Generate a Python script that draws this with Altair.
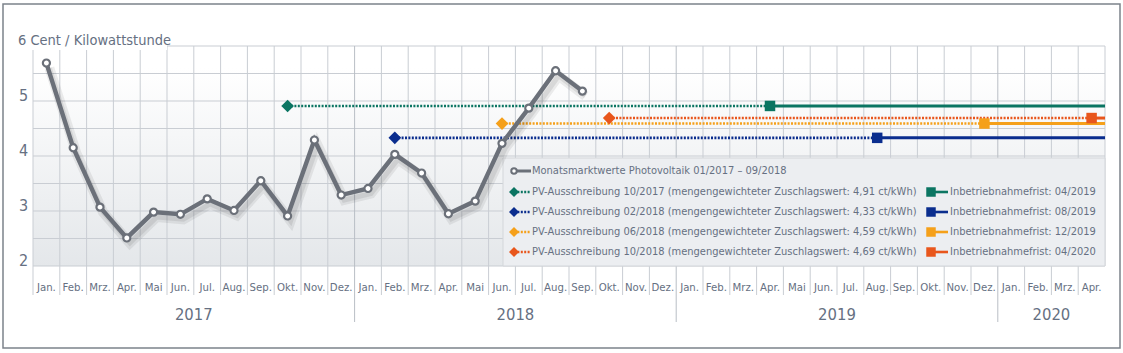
import altair as alt
import pandas as pd

# ---------------- data ----------------
month_names = ["Jan.", "Feb.", "Mrz.", "Apr.", "Mai", "Jun.", "Jul.", "Aug.", "Sep.", "Okt.", "Nov.", "Dez."]
month_labels = month_names * 3 + month_names[:4]          # Jan 2017 .. Apr 2020
years = ["2017", "2018", "2019", "2020"]
year_center = [6, 18, 30, 38]

# Monatsmarktwerte Photovoltaik 01/2017 - 09/2018 (ct/kWh)
market_values = [5.69, 4.15, 3.07, 2.51, 2.98, 2.94, 3.22, 3.01, 3.55, 2.91, 4.29, 3.29,
                 3.41, 4.03, 3.69, 2.95, 3.18, 4.23, 4.87, 5.55, 5.18]

tender_names = ["10/2017", "02/2018", "06/2018", "10/2018"]
tender_values = [4.91, 4.33, 4.59, 4.69]
tender_value_text = ["4,91", "4,33", "4,59", "4,69"]
tender_start = [9, 13, 17, 21]        # month index of tender
tender_deadline = [27, 31, 35, 39]    # month index of Inbetriebnahmefrist
deadline_text = ["04/2019", "08/2019", "12/2019", "04/2020"]
tender_colors = ["#0b7562", "#0a2d8e", "#f5a01a", "#e8561c"]

N = len(month_labels)
W, H = 1072, 220
PAD_L, PAD_T = 33, 46
FONT = "DejaVu Sans Condensed, Liberation Sans Narrow, sans-serif"
TXT = "#667082"
GRID = "#c9cdd3"
LINE = "#6b7079"

xs = alt.Scale(domain=[0, N], nice=False, zero=False)
ys = alt.Scale(domain=[2, 6], nice=False, zero=False)


def X(f):
    return alt.X(f, type="quantitative", scale=xs, axis=None)


def Y(f):
    return alt.Y(f, type="quantitative", scale=ys, axis=None)


layers = []

# background gradient
bg = pd.DataFrame({"x": [0], "x2": [N], "y": [5.6], "y2": [2]})
layers.append(
    alt.Chart(bg).mark_rect(
        fill=alt.Gradient(gradient="linear",
                          stops=[alt.GradientStop(color="#ffffff", offset=0),
                                 alt.GradientStop(color="#e4e7ea", offset=1)],
                          x1=0, x2=0, y1=0, y2=1)
    ).encode(x=X("x"), x2="x2", y=Y("y"), y2="y2")
)

# horizontal grid lines
hg = pd.DataFrame({"y": [2 + 0.5 * k for k in range(9)], "x": 0, "x2": N})
layers.append(alt.Chart(hg).mark_rule(color=GRID, strokeWidth=1).encode(x=X("x"), x2="x2", y=Y("y")))

# vertical grid lines (month separators), extending down into label area
vb = pd.DataFrame({"x": list(range(N))})
vb_norm = vb[~vb["x"].isin([12, 24, 36])]
vb_year = pd.DataFrame({"x": [12, 24, 36]})
layers.append(alt.Chart(vb_norm).mark_rule(color=GRID, strokeWidth=1).encode(
    x=X("x"), y=alt.value(0), y2=alt.value(H + 29)))
layers.append(alt.Chart(vb_year).mark_rule(color="#b9bec5", strokeWidth=1).encode(
    x=X("x"), y=alt.value(0), y2=alt.value(H + 56)))
layers.append(alt.Chart(pd.DataFrame({"x": [N]})).mark_rule(color=GRID, strokeWidth=1).encode(
    x=X("x"), y=alt.value(0), y2=alt.value(H)))

# white background behind the unit label
layers.append(alt.Chart(pd.DataFrame({"a": [0]})).mark_rect(fill="white").encode(
    x=alt.value(-20), x2=alt.value(134), y=alt.value(-18), y2=alt.value(4)))

# legend box
layers.append(alt.Chart(pd.DataFrame({"a": [0]})).mark_rect(
    fill="#eceef1", stroke="#d3d6da", strokeWidth=1).encode(
    x=alt.value(470), x2=alt.value(W), y=alt.value(112), y2=alt.value(H)))

# tender lines
td = pd.DataFrame({
    "name": tender_names,
    "v": tender_values,
    "s": [i + 0.5 for i in tender_start],
    "d": [i + 0.5 for i in tender_deadline],
    "end": N,
})
cscale = alt.Scale(domain=tender_names, range=tender_colors)
col = alt.Color("name:N", scale=cscale, legend=None)
layers.append(alt.Chart(td).mark_rule(strokeWidth=2.6, strokeDash=[2, 1.4]).encode(
    x=X("s"), x2="d", y=Y("v"), color=col))
layers.append(alt.Chart(td).mark_rule(strokeWidth=3).encode(
    x=X("d"), x2="end", y=Y("v"), color=col))
layers.append(alt.Chart(td).mark_point(shape="diamond", filled=True, size=160, opacity=1).encode(
    x=X("s"), y=Y("v"), color=col))
layers.append(alt.Chart(td).mark_point(shape="square", filled=True, size=110, opacity=1).encode(
    x=X("d"), y=Y("v"), color=col))

# market value line
md = pd.DataFrame({"x": [i + 0.5 for i in range(len(market_values))], "y": market_values})
layers.append(alt.Chart(md).mark_line(color="#000000", opacity=0.07, strokeWidth=10,
                                       xOffset=3, yOffset=5).encode(x=X("x"), y=Y("y")))
layers.append(alt.Chart(md).mark_line(color="#000000", opacity=0.08, strokeWidth=5,
                                       xOffset=3, yOffset=5).encode(x=X("x"), y=Y("y")))
layers.append(alt.Chart(md).mark_line(color=LINE, strokeWidth=4.4, strokeJoin="miter").encode(x=X("x"), y=Y("y")))
layers.append(alt.Chart(md).mark_point(shape="circle", filled=True, fill="white", stroke=LINE,
                                        strokeWidth=2.2, size=50, opacity=1).encode(x=X("x"), y=Y("y")))

# ---------------- legend ----------------
LX = 481    # symbol start (chart px)
TX = 499    # text start
LFS = 11
rows_y = [125, 146, 166, 186, 206]
one = pd.DataFrame({"a": [0]})
layers.append(alt.Chart(one).mark_rule(color=LINE, strokeWidth=3).encode(
    x=alt.value(LX), x2=alt.value(LX + 17), y=alt.value(rows_y[0])))
layers.append(alt.Chart(one).mark_point(shape="circle", filled=True, fill="white",
                                         stroke=LINE, strokeWidth=2, size=30, opacity=1).encode(
    x=alt.value(LX), y=alt.value(rows_y[0])))
layers.append(alt.Chart(one).mark_text(
    text="Monatsmarktwerte Photovoltaik 01/2017 – 09/2018", align="left", baseline="middle",
    font=FONT, fontSize=LFS, color=TXT).encode(x=alt.value(TX), y=alt.value(rows_y[0])))
for k in range(4):
    yy = rows_y[k + 1]
    c = tender_colors[k]
    layers.append(alt.Chart(one).mark_rule(color=c, strokeWidth=2.6, strokeDash=[2, 1.4]).encode(
        x=alt.value(LX), x2=alt.value(LX + 17), y=alt.value(yy)))
    layers.append(alt.Chart(one).mark_point(shape="diamond", filled=True, color=c, size=100, opacity=1).encode(
        x=alt.value(LX), y=alt.value(yy)))
    layers.append(alt.Chart(one).mark_text(
        text=f"PV-Ausschreibung {tender_names[k]} (mengengewichteter Zuschlagswert: {tender_value_text[k]} ct/kWh)",
        align="left", baseline="middle", font=FONT, fontSize=LFS, color=TXT).encode(
        x=alt.value(TX), y=alt.value(yy)))
    layers.append(alt.Chart(one).mark_rule(color=c, strokeWidth=2.6).encode(
        x=alt.value(898), x2=alt.value(915), y=alt.value(yy)))
    layers.append(alt.Chart(one).mark_point(shape="square", filled=True, color=c, size=90, opacity=1).encode(
        x=alt.value(898), y=alt.value(yy)))
    layers.append(alt.Chart(one).mark_text(
        text=f"Inbetriebnahmefrist: {deadline_text[k]}",
        align="left", baseline="middle", font=FONT, fontSize=LFS, color=TXT).encode(
        x=alt.value(917), y=alt.value(yy)))

# ---------------- axis texts ----------------
yl = pd.DataFrame({"y": [2, 3, 4, 5], "t": ["2", "3", "4", "5"]})
layers.append(alt.Chart(yl).mark_text(align="left", baseline="middle", dy=-5, font=FONT, fontSize=16,
                                       color=TXT).encode(x=alt.value(-14), y=Y("y"), text="t:N"))
layers.append(alt.Chart(pd.DataFrame({"y": [6]})).mark_text(
    text="6 Cent / Kilowattstunde", align="left", baseline="middle", dy=-5, font=FONT, fontSize=14.5,
    color=TXT).encode(x=alt.value(-15), y=Y("y")))

ml = pd.DataFrame({"x": [i + 0.5 for i in range(N)], "t": month_labels})
layers.append(alt.Chart(ml).mark_text(baseline="middle", font=FONT, fontSize=11.3, color=TXT).encode(
    x=X("x"), y=alt.value(H + 22), text="t:N"))
yd = pd.DataFrame({"x": year_center, "t": years})
layers.append(alt.Chart(yd).mark_text(baseline="middle", font=FONT, fontSize=16.5, color=TXT).encode(
    x=X("x"), y=alt.value(H + 49), text="t:N"))

# outer frame
layers.append(alt.Chart(one).mark_rect(
    fill=None, stroke="#7c828a", strokeWidth=1.5).encode(
    x=alt.value(-30), x2=alt.value(1087), y=alt.value(-42), y2=alt.value(302)))

chart = alt.layer(*layers).properties(
    width=W, height=H,
    autosize=alt.AutoSizeParams(type="none"),
    padding={"left": PAD_L, "top": PAD_T, "right": 1123 - PAD_L - W, "bottom": 353 - PAD_T - H},
    background="white",
).configure_view(stroke=None)

chart.save("out.html", embed_options={"renderer": "svg", "actions": False})
